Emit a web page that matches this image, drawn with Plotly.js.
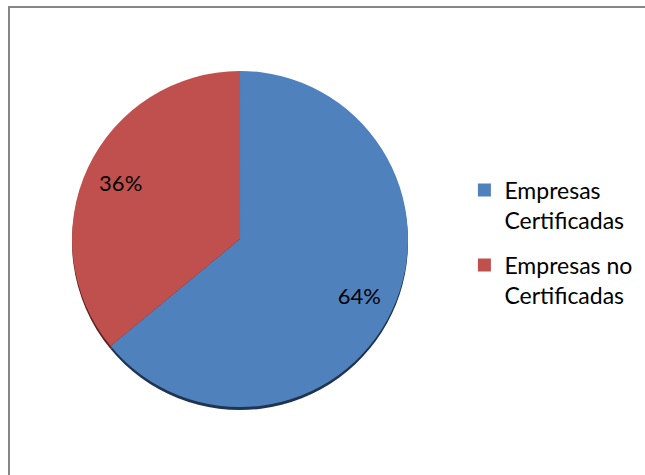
<!DOCTYPE html>
<html>
<head>
<meta charset="utf-8">
<script src="https://cdn.plot.ly/plotly-3.0.1.min.js"></script>
<style>
  html, body { margin: 0; padding: 0; background: #ffffff; }
  #wrap { position: relative; width: 645px; height: 475px; overflow: hidden; }
  #frame { position: absolute; left: 8px; top: 6px; width: 700px; height: 520px;
           border: 2px solid #868686; box-sizing: border-box; pointer-events: none; z-index: 5; }
  #chart { position: absolute; left: 0; top: 0; width: 645px; height: 475px; }
</style>
</head>
<body>
<div id="wrap">
  <div id="chart"></div>
  <div id="frame"></div>
</div>
<script>
const categories = ["Empresas<br>Certificadas", "Empresas no<br>Certificadas"];
const values = [64, 36];
const sliceColors = ["#4F81BD", "#C0504D"];
const shadowColors = ["#1F3450", "#5A2321"];

const fontFam = "Lato, 'Liberation Sans', sans-serif";
const pieDomain = { x: [0.1116, 0.6326], y: [0.1432, 0.8505] };
const shadowDomain = { x: [0.1116, 0.6326], y: [0.1368, 0.8442] };

// shadow underneath
const shadow = {
  type: "pie", values: values, labels: categories, sort: false,
  direction: "clockwise", rotation: 0, showlegend: false,
  textinfo: "none", hoverinfo: "skip",
  marker: { colors: shadowColors, line: { width: 0 } },
  domain: shadowDomain
};

// main pie (no text)
const pie = {
  type: "pie", values: values, labels: categories, sort: false,
  direction: "clockwise", rotation: 0, showlegend: false,
  textinfo: "none", hoverinfo: "skip",
  marker: { colors: sliceColors, line: { width: 0 } },
  domain: pieDomain
};

// transparent ring carrying the percentage labels further out
const labelRing = {
  type: "pie", values: values, labels: categories, sort: false,
  direction: "clockwise", rotation: 0, showlegend: false,
  hole: 0.57,
  texttemplate: "%{percent:.0%}",
  textposition: "inside",
  insidetextorientation: "horizontal",
  textfont: { family: fontFam, size: 22, color: "#000000" },
  marker: { colors: ["rgba(0,0,0,0)", "rgba(0,0,0,0)"], line: { width: 0 } },
  domain: pieDomain
};

// legend entries
const legendTraces = categories.map((c, i) => ({
  type: "scatter", mode: "markers", x: [null], y: [null],
  name: c, legendgroup: "g" + i,
  marker: { symbol: "square", size: 13, color: sliceColors[i] },
  hoverinfo: "skip"
}));

const layout = {
  width: 645, height: 475,
  margin: { l: 0, r: 0, t: 0, b: 0 },
  paper_bgcolor: "#ffffff", plot_bgcolor: "rgba(0,0,0,0)",
  font: { family: fontFam, color: "#000000" },
  xaxis: { visible: false }, yaxis: { visible: false },
  showlegend: true,
  legend: {
    x: 0.72, y: 0.645, xanchor: "left", yanchor: "top",
    font: { family: fontFam, size: 23, color: "#000000" },
    tracegroupgap: 12, valign: "top",
    bgcolor: "rgba(0,0,0,0)"
  }
};

Plotly.newPlot("chart", [shadow, pie, labelRing, ...legendTraces], layout,
  { displayModeBar: false, staticPlot: true });
</script>
</body>
</html>
